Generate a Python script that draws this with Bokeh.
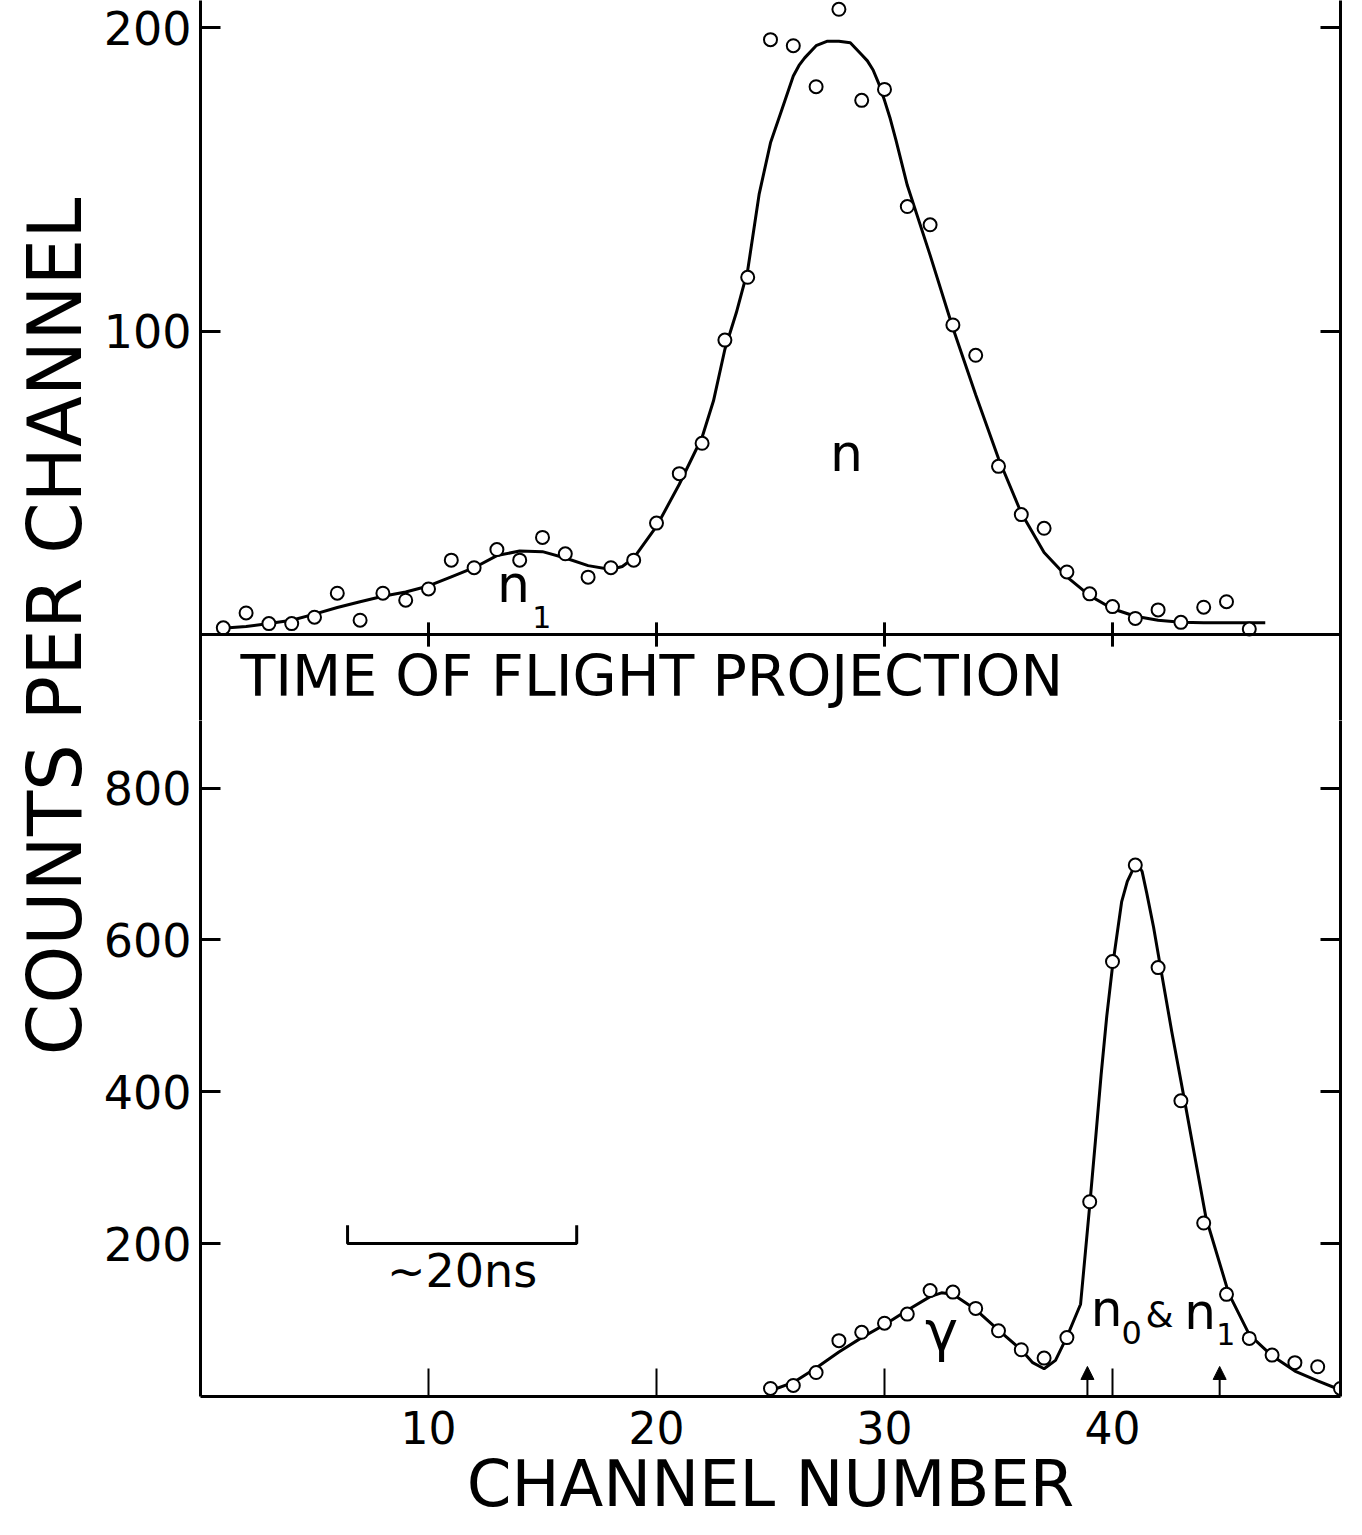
import math
from bokeh.plotting import figure
from bokeh.layouts import row, column
from bokeh.models import Range1d, LinearAxis, FixedTicker, Span, Label, Arrow, NormalHead
from bokeh.embed import file_html
from bokeh.resources import INLINE

# ---------------- data ----------------
# top panel: time-of-flight projection
top_channels = list(range(1, 47))
top_counts = [2.2, 7.1, 3.6, 3.6, 5.7, 13.6, 4.7, 13.6, 11.3, 15.0,
              24.5, 22.0, 28.0, 24.5, 32.0, 26.6, 18.9, 22.0, 24.5, 36.7,
              53.0, 63.0, 97.0, 117.7, 196.0, 194.0, 180.5, 206.0, 176.0, 179.6,
              141.0, 135.0, 102.0, 92.0, 55.4, 39.5, 35.0, 20.6, 13.4, 9.2,
              5.3, 8.1, 4.0, 9.0, 10.8, 1.8]
top_fit_channels = [0.8, 2, 3, 4, 5, 6, 7, 8, 9, 10, 11, 12, 13, 14, 15, 16, 17, 18,
                    18.5, 19, 20, 21, 22, 22.5, 23, 23.5, 24, 24.5, 25, 25.5, 26, 26.25,
                    26.5, 27, 27.5, 28, 28.5, 29, 29.25, 29.5, 29.75, 30, 30.25, 30.5,
                    31, 32, 33, 34, 35, 36, 37, 38, 39, 40, 41, 42, 43, 44, 45, 46.7]
top_fit_counts = [2.0, 2.6, 3.6, 4.7, 6.7, 8.9, 10.8, 12.6, 14.0, 16.0, 19.0, 22.0,
                  26.0, 27.5, 27.3, 25.2, 22.7, 21.4, 22.4, 25.2, 35.6, 49.5, 65.0,
                  77.0, 94.0, 106.0, 120.0, 145.0, 162.0, 173.0, 184.0, 187.5, 190.0,
                  194.0, 195.5, 195.5, 195.0, 191.0, 189.0, 186.0, 181.5, 176.0, 170.0,
                  163.0, 148.0, 125.0, 101.0, 79.0, 58.0, 40.0, 27.0, 19.0, 12.8, 8.5,
                  6.0, 4.7, 4.0, 3.9, 3.9, 3.9]
top_yticks = [100, 200]

# bottom panel: channel spectrum
bot_channels = list(range(25, 51))
bot_counts = [9, 13, 30, 72, 83, 95, 107, 138, 136, 114.5, 85, 60, 49, 76, 255,
              571.5, 698.6, 563.5, 388, 227, 133, 75, 53, 43, 37.6, 9]
bot_fit_channels = [25, 26, 27, 28, 29, 30, 31, 32, 32.5, 33, 34, 35, 36, 36.5, 37,
                    37.5, 38, 38.6, 39, 39.25, 39.5, 39.75, 40, 40.4, 40.65, 40.9, 41.1,
                    41.3, 41.5, 41.8, 42.1, 42.6, 43.2, 44.1, 45.1, 46, 47, 48, 49, 50]
bot_fit_counts = [6, 17, 36, 57, 76, 93, 112, 130, 135, 133, 113, 86, 60, 43, 35,
                  46, 77, 120, 250, 335, 422, 500, 565, 650, 677, 693, 700, 690, 662,
                  617, 565, 479, 382, 234, 134, 80, 52, 32, 19, 7]
bot_yticks = [200, 400, 600, 800]
x_ticks = [10, 20, 30, 40]
arrow_channels = [38.9, 44.7]
scale_bar = [6.45, 16.5]   # channels spanned by the ~20 ns bar

FONT = "DejaVu Sans"
X0, X1 = 0, 50
LEFT = 100          # width of the y-label strip
BORDER_L = 100      # left border of the panels (frame starts at x=200)

# ---------------- y-label strip ----------------
lab = figure(width=LEFT, height=1535, x_range=Range1d(0, LEFT), y_range=Range1d(0, 1535),
             x_axis_location=None, y_axis_location=None, toolbar_location=None,
             output_backend="svg", min_border=0)
lab.outline_line_color = None
lab.grid.visible = False
lab.add_layout(Label(x=54, y=1535 - 626, text="COUNTS PER CHANNEL", angle=math.pi / 2,
                     text_align="center", text_baseline="middle", text_font=FONT,
                     text_font_size="74px", text_color="black"))

xr = Range1d(X0, X1)

def style_y(ax, ticks, labels=True):
    ax.ticker = FixedTicker(ticks=ticks)
    ax.major_tick_in = 20
    ax.major_tick_out = 0
    ax.major_tick_line_width = 3
    ax.minor_tick_line_color = None
    ax.axis_line_width = 3
    ax.axis_line_color = "black"
    ax.major_tick_line_color = "black"
    if labels:
        ax.major_label_text_font = FONT
        ax.major_label_text_font_size = "46px"
        ax.major_label_text_color = "black"
        ax.major_label_standoff = 9
    else:
        ax.major_label_overrides = {t: "" for t in ticks}
        ax.major_label_standoff = 0

# ---------------- top panel ----------------
TOP_H = 720
top_px = 3.035
top = figure(width=1362 - LEFT, height=TOP_H, x_range=xr,
             y_range=Range1d(-(TOP_H - 634) / top_px, 634 / top_px),
             x_axis_location=None, toolbar_location=None, output_backend="svg",
             min_border_left=BORDER_L, min_border_right=22, min_border_top=0,
             min_border_bottom=0)
top.outline_line_color = None
top.grid.visible = False
style_y(top.yaxis[0], top_yticks)
ra = LinearAxis()
style_y(ra, top_yticks, labels=False)
top.add_layout(ra, "right")
top.add_layout(Span(location=0, dimension="width", line_color="black", line_width=3))
top.segment(x0=x_ticks, y0=[-4] * len(x_ticks), x1=x_ticks, y1=[4] * len(x_ticks),
            line_color="black", line_width=3)
top.line(top_fit_channels, top_fit_counts, line_color="black", line_width=3)
top.scatter(top_channels, top_counts, marker="circle", size=13, fill_color="white",
            line_color="black", line_width=2)
top.add_layout(Label(x=28.33, y=50, text="n", text_align="center", text_font=FONT,
                     text_font_size="52px", text_color="black"))
top.add_layout(Label(x=13.0, y=6.6, text="n", text_align="left", text_font=FONT,
                     text_font_size="52px", text_color="black"))
top.add_layout(Label(x=14.55, y=2.3, text="1", text_align="left", text_font=FONT,
                     text_font_size="30px", text_color="black"))
top.add_layout(Label(x=1.75, y=-(708 - 634) / top_px, text="TIME OF FLIGHT PROJECTION",
                     text_align="left", text_font=FONT, text_font_size="57px",
                     text_color="black"))

# ---------------- bottom panel ----------------
BOT_H = 1535 - TOP_H
bot_px = 0.759
bot = figure(width=1362 - LEFT, height=BOT_H, x_range=xr,
             y_range=Range1d(-(1396 - 1394.8) / bot_px, (1394.8 - TOP_H) / bot_px),
             toolbar_location=None, output_backend="svg",
             min_border_left=BORDER_L, min_border_right=22, min_border_top=0,
             min_border_bottom=139)
bot.outline_line_color = None
bot.grid.visible = False
style_y(bot.yaxis[0], bot_yticks)
rb = LinearAxis()
style_y(rb, bot_yticks, labels=False)
bot.add_layout(rb, "right")
xa = bot.xaxis[0]
xa.ticker = FixedTicker(ticks=x_ticks)
xa.major_tick_in = 28
xa.major_tick_out = 0
xa.major_tick_line_width = 2
xa.major_tick_line_color = "black"
xa.minor_tick_line_color = None
xa.axis_line_width = 3
xa.axis_line_color = "black"
xa.major_label_text_font = FONT
xa.major_label_text_font_size = "44px"
xa.major_label_text_color = "black"
xa.major_label_standoff = 14
xa.axis_label = "CHANNEL NUMBER"
xa.axis_label_text_font = FONT
xa.axis_label_text_font_size = "64px"
xa.axis_label_text_font_style = "normal"
xa.axis_label_text_color = "black"
xa.axis_label_standoff = 0

bot.line(bot_fit_channels, bot_fit_counts, line_color="black", line_width=3)
bot.scatter(bot_channels, bot_counts, marker="circle", size=13, fill_color="white",
            line_color="black", line_width=2)

# scale bar ~20 ns
bar_level, bar_cap = 200, 224
bot.line([scale_bar[0], scale_bar[0], scale_bar[1], scale_bar[1]],
         [bar_cap, bar_level, bar_level, bar_cap], line_color="black", line_width=3)
bot.add_layout(Label(x=(scale_bar[0] + scale_bar[1]) / 2, y=128, text="~20ns",
                     text_align="center", text_font=FONT, text_font_size="46px",
                     text_color="black"))

# labels
bot.add_layout(Label(x=32.5, y=42, text="γ", text_align="center", text_font=FONT,
                     text_font_size="56px", text_color="black"))
bot.add_layout(Label(x=39.05, y=76, text="n", text_align="left", text_font=FONT,
                     text_font_size="50px", text_color="black"))
bot.add_layout(Label(x=40.4, y=68, text="0", text_align="left", text_font=FONT,
                     text_font_size="32px", text_color="black"))
bot.add_layout(Label(x=41.45, y=79, text="&", text_align="left", text_font=FONT,
                     text_font_size="36px", text_color="black"))
bot.add_layout(Label(x=43.15, y=72, text="n", text_align="left", text_font=FONT,
                     text_font_size="50px", text_color="black"))
bot.add_layout(Label(x=44.55, y=66, text="1", text_align="left", text_font=FONT,
                     text_font_size="30px", text_color="black"))

for c in arrow_channels:
    bot.add_layout(Arrow(end=NormalHead(size=13, fill_color="black", line_color="black"),
                         x_start=c, y_start=0, x_end=c, y_end=38,
                         line_color="black", line_width=2))

layout = row(lab, column(top, bot))
open("out.html", "w").write(file_html(layout, INLINE))
